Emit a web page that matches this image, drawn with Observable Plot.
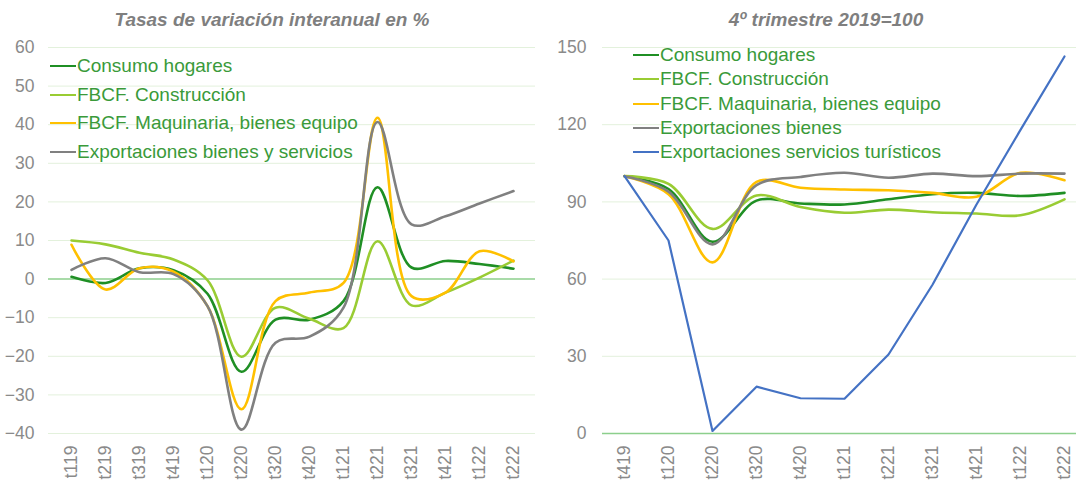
<!DOCTYPE html>
<html>
<head>
<meta charset="utf-8">
<script src="https://cdn.jsdelivr.net/npm/d3@7"></script>
<script src="https://cdn.jsdelivr.net/npm/@observablehq/plot@0.6"></script>
<style>
  html, body { margin: 0; padding: 0; background: #fff; overflow: hidden; }
  #wrap { position: relative; width: 1076px; height: 480px; overflow: hidden; font-family: "Liberation Sans", Arial, sans-serif; }
  .panel { position: absolute; top: 0; }
  .title { position: absolute; top: 9px; font-size: 19px; font-weight: bold; font-style: italic; color: #7f7f7f; white-space: nowrap; transform: translateX(-50%); }
  .leg { position: absolute; font-size: 19px; color: #3a9a3a; white-space: nowrap; line-height: 20px; }
  .leg .sw { display: inline-block; width: 26px; height: 0; border-top: 2.5px solid; vertical-align: middle; margin-right: 1px; position: relative; top: -1px; }
</style>
</head>
<body>
<div id="wrap"></div>
<script>
// ---------- data ----------
const quartersLeft = ["t119","t219","t319","t419","t120","t220","t320","t420","t121","t221","t321","t421","t122","t222"];
const consumoLeft      = [0.6, -1, 2.8, 2.3, -3.8, -24, -10.5, -10.5, -5.7, 23.8, 3, 4.7, 3.9, 2.7];
const construccionLeft = [10, 9, 6.8, 5.1, -0.3, -20.1, -7.4, -10.3, -12.7, 9.8, -6.8, -3.5, 0.4, 4.8];
const maquinariaLeft   = [8.9, -2.7, 2.8, 1.9, -7, -33.7, -5.7, -3.5, -1, 41.8, -4.4, -3.5, 7.2, 4.6];
const exportLeft       = [2.4, 5.4, 1.8, 1.3, -7, -39, -16.5, -14.9, -7.4, 40.7, 14.2, 16.3, 19.6, 22.8];
const seriesLeft = ["Consumo hogares", "FBCF. Construcción", "FBCF. Maquinaria, bienes equipo", "Exportaciones bienes y servicios"];
const yTicksLeft = [-40, -30, -20, -10, 0, 10, 20, 30, 40, 50, 60];

const quartersRight = ["t419","t120","t220","t320","t420","t121","t221","t321","t421","t122","t222"];
const consumoRight      = [100, 95, 74.5, 90.5, 89.4, 89, 91, 93, 93.5, 92.3, 93.5];
const construccionRight = [100, 97, 79.5, 92.5, 88, 85.8, 87, 86, 85.5, 84.8, 91];
const maquinariaRight   = [100, 93, 66.5, 97.8, 95.5, 94.8, 94.5, 93.5, 92, 101.3, 98.4];
const exportBienesRight = [100, 94, 73.5, 96.5, 99.7, 101.3, 99.4, 101, 100, 101, 101];
const turismoRight      = [100, 75, 1, 18.2, 13.7, 13.5, 30.7, 57.8, 89, 118, 146.5];
const seriesRight = ["Consumo hogares", "FBCF. Construcción", "FBCF. Maquinaria, bienes equipo", "Exportaciones bienes", "Exportaciones servicios turísticos"];
const yTicksRight = [0, 30, 60, 90, 120, 150];

const titleLeft = "Tasas de variación interanual en %";
const titleRight = "4º trimestre 2019=100";

const colors = ["#1f8f24", "#99cc33", "#ffc000", "#808080", "#4472c4"];

// ---------- build ----------
function longData(quarters, arrays, names) {
  const out = [];
  arrays.forEach((arr, i) => arr.forEach((v, j) => out.push({s: names[i], q: quarters[j], v})));
  return out;
}
const dataLeft = longData(quartersLeft, [consumoLeft, construccionLeft, maquinariaLeft, exportLeft], seriesLeft);
const dataRightSmooth = longData(quartersRight, [consumoRight, construccionRight, maquinariaRight, exportBienesRight], seriesRight.slice(0, 4));
const dataRightTur = longData(quartersRight, [turismoRight], [seriesRight[4]]);

const common = {
  height: 480,
  marginTop: 47,
  marginBottom: 47,
  style: {fontFamily: "Liberation Sans, Arial, sans-serif", fontSize: "17.5px", color: "#8a8a8a", background: "#fff", maxWidth: "none", overflow: "hidden"}
};

const left = Plot.plot({
  ...common,
  width: 540,
  marginLeft: 48,
  marginRight: 5,
  x: {type: "point", domain: quartersLeft, padding: 0.5, tickSize: 0, tickPadding: 12, tickRotate: -90, label: null},
  y: {domain: [-40, 60], ticks: yTicksLeft, tickSize: 0, tickPadding: 14, label: null},
  color: {domain: seriesLeft, range: colors.slice(0, 4)},
  marks: [
    Plot.ruleY(yTicksLeft.filter(d => d !== 0), {stroke: "#e3f1dc", strokeWidth: 1}),
    Plot.ruleY([0], {stroke: "#8ccf8c", strokeWidth: 1.5}),
    Plot.line(dataLeft, {x: "q", y: "v", z: "s", stroke: "s", curve: "catmull-rom", strokeWidth: 2.6})
  ]
});

const right = Plot.plot({
  ...common,
  width: 546,
  marginLeft: 62,
  marginRight: 0,
  x: {type: "point", domain: quartersRight, padding: 0.5, tickSize: 0, tickPadding: 12, tickRotate: -90, label: null},
  y: {domain: [0, 150], ticks: yTicksRight, tickSize: 0, tickPadding: 16, label: null},
  color: {domain: seriesRight, range: colors},
  marks: [
    Plot.ruleY(yTicksRight.filter(d => d !== 0), {stroke: "#e3f1dc", strokeWidth: 1}),
    Plot.ruleY([0], {stroke: "#8ccf8c", strokeWidth: 1.5}),
    Plot.line(dataRightSmooth, {x: "q", y: "v", z: "s", stroke: "s", curve: "catmull-rom", strokeWidth: 2.6}),
    Plot.line(dataRightTur, {x: "q", y: "v", stroke: "s", strokeWidth: 2.2})
  ]
});

const wrap = document.getElementById("wrap");
left.classList.add("panel"); left.style.left = "0px";
right.classList.add("panel"); right.style.left = "540px";
wrap.appendChild(left);
wrap.appendChild(right);

function addTitle(text, cx) {
  const d = document.createElement("div");
  d.className = "title"; d.textContent = text; d.style.left = cx + "px";
  wrap.appendChild(d);
}
addTitle(titleLeft, 272);
addTitle(titleRight, 826);

function addLegend(names, cols, x0, y0, dy) {
  names.forEach((n, i) => {
    const d = document.createElement("div");
    d.className = "leg";
    d.style.left = x0 + "px";
    d.style.top = (y0 + i * dy - 10) + "px";
    const sw = document.createElement("span");
    sw.className = "sw"; sw.style.borderTopColor = cols[i];
    d.appendChild(sw);
    d.appendChild(document.createTextNode(n));
    wrap.appendChild(d);
  });
}
addLegend(seriesLeft, colors, 50, 66, 28.7);
addLegend(seriesRight, colors, 633, 55, 24.3);
</script>
</body>
</html>
